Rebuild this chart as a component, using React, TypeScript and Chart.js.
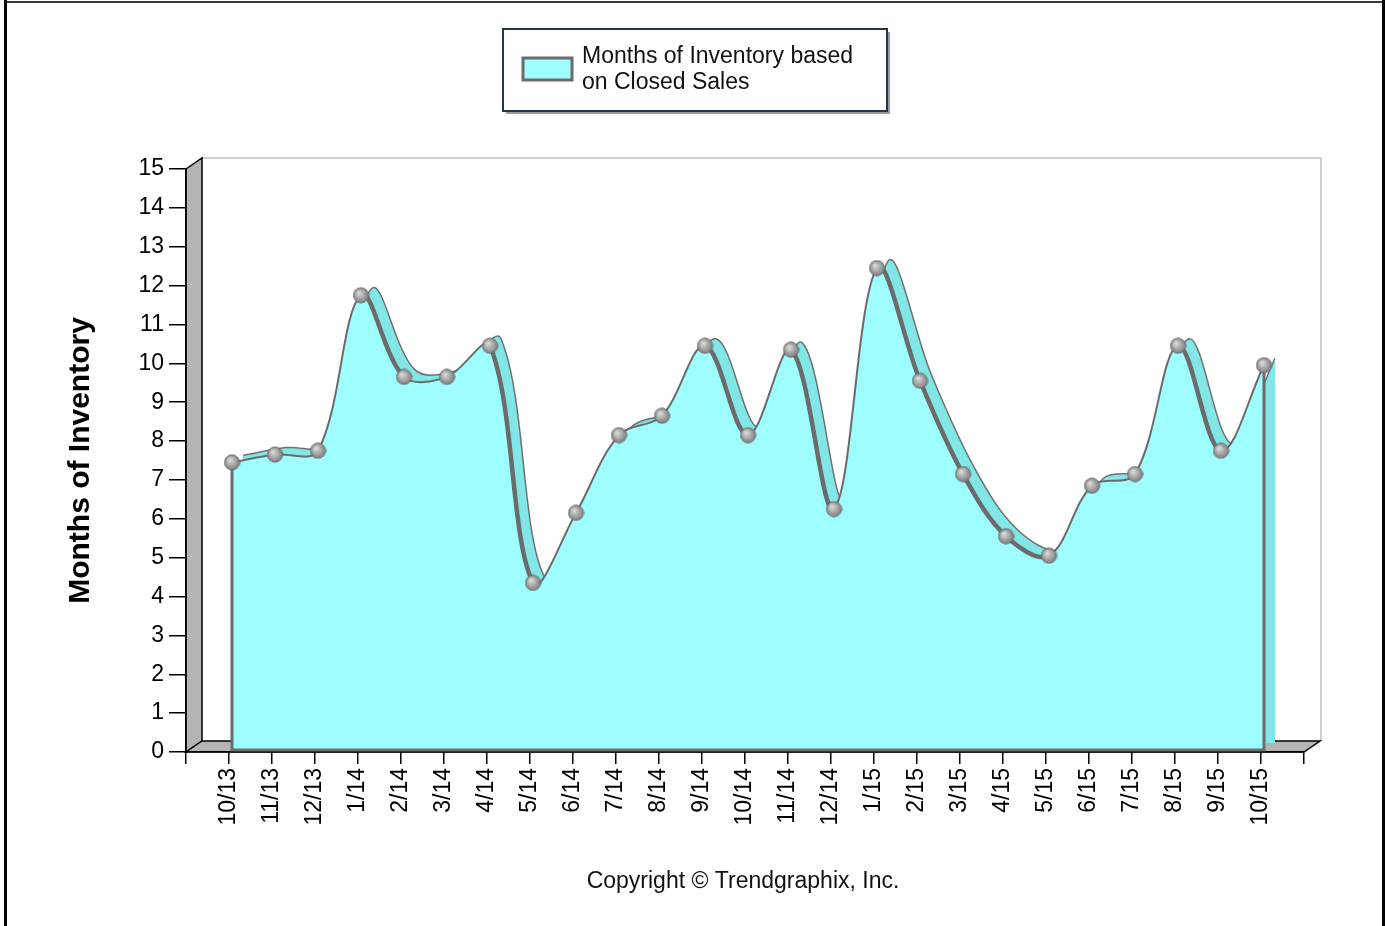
import React, { useEffect, useRef } from "react";
import { Chart, registerables } from "chart.js";

Chart.register(...registerables);

// ---------------- data ----------------
const months = [
  "10/13", "11/13", "12/13", "1/14", "2/14", "3/14", "4/14", "5/14", "6/14",
  "7/14", "8/14", "9/14", "10/14", "11/14", "12/14", "1/15", "2/15", "3/15",
  "4/15", "5/15", "6/15", "7/15", "8/15", "9/15", "10/15",
];
const inventory = [
  7.4, 7.6, 7.7, 11.7, 9.6, 9.6, 10.4, 4.3, 6.1, 8.1, 8.6, 10.4, 8.1, 10.3,
  6.2, 12.4, 9.5, 7.1, 5.5, 5.0, 6.8, 7.1, 10.4, 7.7, 9.9,
];
const seriesLabelLines = ["Months of Inventory based", "on Closed Sales"];
const yAxisTitle = "Months of Inventory";
const footerText = "Copyright \u00A9 Trendgraphix, Inc.";
const yMin = 0;
const yMax = 15;
const yStep = 1;

// ---------------- styling / geometry ----------------
const W = 1385;
const H = 926;
const FONT = "'Liberation Sans', Arial, sans-serif";
const AREA = { left: 186, right: 1304, top: 169, bottom: 752 };
const WALL = { dx: 16, dy: -11 };
const FRONT_SHIFT = { dx: 3, dy: 2 };
const BACK_SHIFT = { dx: 14, dy: 9 };
const CYAN = "#9efefe";
const CYAN_DARK = "#80e6e6";
const LINE_GRAY = "#6b6b6b";

const xMin = -1;
const xMax = months.length;
const pxPerX = (AREA.right - AREA.left) / (xMax - xMin);
const pxPerY = (AREA.bottom - AREA.top) / (yMax - yMin);

function makeSphere(): HTMLCanvasElement {
  const c = document.createElement("canvas");
  c.width = 17;
  c.height = 17;
  const g = c.getContext("2d")!;
  const grad = g.createRadialGradient(6.5, 6, 1, 8.5, 8.5, 8.5);
  grad.addColorStop(0, "#d6d6d6");
  grad.addColorStop(0.55, "#a0a0a0");
  grad.addColorStop(1, "#767676");
  g.beginPath();
  g.arc(8.5, 8.5, 7.6, 0, Math.PI * 2);
  g.fillStyle = grad;
  g.fill();
  g.lineWidth = 1;
  g.strokeStyle = "#6a6a6a";
  g.stroke();
  return c;
}

function poly(ctx: CanvasRenderingContext2D, pts: number[][]) {
  ctx.beginPath();
  pts.forEach((p, i) => (i === 0 ? ctx.moveTo(p[0], p[1]) : ctx.lineTo(p[0], p[1])));
  ctx.closePath();
}

const wallsPlugin = {
  id: "walls3d",
  beforeDraw(chart: any) {
    const { ctx, chartArea: a } = chart;
    ctx.save();
    ctx.fillStyle = "#ffffff";
    ctx.fillRect(0, 0, chart.width, chart.height);
    const bl = a.left + WALL.dx;
    const bt = a.top + WALL.dy;
    const br = a.right + WALL.dx;
    const bb = a.bottom + WALL.dy;
    // back wall outline
    ctx.strokeStyle = "#cdcdcd";
    ctx.lineWidth = 2;
    ctx.beginPath();
    ctx.moveTo(bl, bt);
    ctx.lineTo(br + 1, bt);
    ctx.lineTo(br + 1, bb);
    ctx.stroke();
    // left wall
    ctx.fillStyle = "#b4b4b4";
    ctx.strokeStyle = "#000";
    ctx.lineWidth = 1.5;
    poly(ctx, [[a.left, a.top], [bl, bt], [bl, bb], [a.left, a.bottom]]);
    ctx.fill();
    ctx.stroke();
    // floor
    poly(ctx, [[a.left, a.bottom], [a.right, a.bottom], [br, bb], [bl, bb]]);
    ctx.fill();
    ctx.stroke();
    ctx.restore();
  },
  beforeDatasetDraw(chart: any, args: any) {
    if (args.index !== 0) return;
    const xs = chart.scales.xf;
    const ys = chart.scales.yf;
    const ctx = chart.ctx;
    const n = inventory.length;
    const x0 = xs.getPixelForValue(0);
    const xn = xs.getPixelForValue(n - 1);
    const base = ys.getPixelForValue(0);
    ctx.save();
    ctx.strokeStyle = LINE_GRAY;
    ctx.lineWidth = 3;
    ctx.beginPath();
    ctx.moveTo(x0, ys.getPixelForValue(inventory[0]));
    ctx.lineTo(x0, base);
    ctx.lineTo(xn, base);
    ctx.lineTo(xn, ys.getPixelForValue(inventory[n - 1]));
    ctx.stroke();
    ctx.restore();
  },
  afterDraw(chart: any) {
    const ctx = chart.ctx;
    ctx.save();
    // outer frame
    ctx.fillStyle = "#3a3a3a";
    ctx.fillRect(4, 1, W - 4, 2);
    ctx.fillStyle = "#000";
    ctx.fillRect(4, 0, 3, H);
    ctx.fillRect(W - 3, 0, 3, H);
    // legend box
    const lx = 503, ly = 29, lw = 384, lh = 82;
    ctx.fillStyle = "#9a9a9a";
    ctx.fillRect(lx + 3, ly + 3, lw, lh);
    ctx.fillStyle = "#fff";
    ctx.fillRect(lx, ly, lw, lh);
    ctx.strokeStyle = "#26324f";
    ctx.lineWidth = 2;
    ctx.strokeRect(lx, ly, lw, lh);
    ctx.fillStyle = CYAN;
    ctx.fillRect(523, 58, 49, 22);
    ctx.strokeStyle = LINE_GRAY;
    ctx.lineWidth = 3;
    ctx.strokeRect(523, 58, 49, 22);
    ctx.fillStyle = "#111";
    ctx.font = `23px ${FONT}`;
    ctx.textAlign = "left";
    ctx.textBaseline = "alphabetic";
    seriesLabelLines.forEach((t, i) => ctx.fillText(t, 582, 63 + i * 26));
    // footer
    ctx.textAlign = "center";
    ctx.fillText(footerText, 743, 888);
    ctx.restore();
  },
};

export default function App() {
  const ref = useRef<HTMLCanvasElement | null>(null);

  useEffect(() => {
    if (!ref.current) return;
    const sphere = makeSphere();
    const points = inventory.map((v, i) => ({ x: i, y: v }));
    const shiftX = (d: number) => ({ min: xMin - d / pxPerX, max: xMax - d / pxPerX });
    const shiftY = (d: number) => ({ min: yMin - d / pxPerY, max: yMax - d / pxPerY });

    const chart = new Chart(ref.current, {
      type: "line",
      data: {
        datasets: [
          {
            label: seriesLabelLines.join(" "),
            data: points,
            xAxisID: "xf",
            yAxisID: "yf",
            borderColor: LINE_GRAY,
            borderWidth: 2,
            borderCapStyle: "round",
            borderJoinStyle: "round",
            segment: {
              borderWidth: (c: any) => (c.p1.parsed.y < c.p0.parsed.y ? 4.5 : 2),
            },
            backgroundColor: CYAN,
            fill: "origin",
            tension: 0.35,
            pointStyle: sphere as any,
            pointRadius: 8,
            clip: false as any,
          } as any,
          {
            label: "depth",
            data: points,
            xAxisID: "xb",
            yAxisID: "yb",
            borderColor: "#707070",
            borderWidth: 1.5,
            backgroundColor: CYAN_DARK,
            fill: "origin",
            tension: 0.35,
            pointRadius: 0,
            clip: false as any,
          } as any,
        ],
      },
      options: {
        responsive: false,
        maintainAspectRatio: false,
        animation: false,
        devicePixelRatio: 1,
        events: [],
        layout: { padding: { left: 0, right: W - AREA.right, top: AREA.top, bottom: 0 } },
        plugins: {
          legend: { display: false },
          tooltip: { enabled: false },
        },
        scales: {
          x: {
            type: "linear",
            position: "bottom",
            min: xMin,
            max: xMax,
            ticks: {
              stepSize: 1,
              autoSkip: false,
              maxRotation: 90,
              minRotation: 90,
              padding: 4,
              color: "#000",
              font: { size: 23, family: FONT },
              callback: (v: any) => months[v as number] ?? "",
            },
            grid: { drawOnChartArea: false, drawTicks: true, tickLength: 12, color: "#000", lineWidth: 1.5 },
            border: { display: true, color: "#000", width: 1.5 },
            afterFit: (s: any) => {
              s.height = H - AREA.bottom;
            },
          },
          y: {
            type: "linear",
            position: "left",
            min: yMin,
            max: yMax,
            ticks: {
              stepSize: yStep,
              padding: 5,
              color: "#000",
              font: { size: 23, family: FONT },
            },
            grid: { drawOnChartArea: false, drawTicks: true, tickLength: 17, color: "#000", lineWidth: 1.5 },
            border: { display: true, color: "#000", width: 1.5 },
            title: {
              display: true,
              text: yAxisTitle,
              color: "#000",
              font: { size: 30, weight: "bold", family: FONT },
              padding: { top: 63, bottom: 0 },
            },
            afterFit: (s: any) => {
              s.width = AREA.left;
            },
          },
          xf: { type: "linear", display: false, ...shiftX(FRONT_SHIFT.dx) },
          yf: { type: "linear", display: false, ...shiftY(FRONT_SHIFT.dy) },
          xb: { type: "linear", display: false, ...shiftX(BACK_SHIFT.dx) },
          yb: { type: "linear", display: false, ...shiftY(BACK_SHIFT.dy) },
        } as any,
      },
      plugins: [wallsPlugin],
    });
    return () => chart.destroy();
  }, []);

  return (
    <div style={{ position: "fixed", left: 0, top: 0, width: W, height: H, background: "#fff" }}>
      <canvas ref={ref} width={W} height={H} style={{ display: "block" }} />
    </div>
  );
}
